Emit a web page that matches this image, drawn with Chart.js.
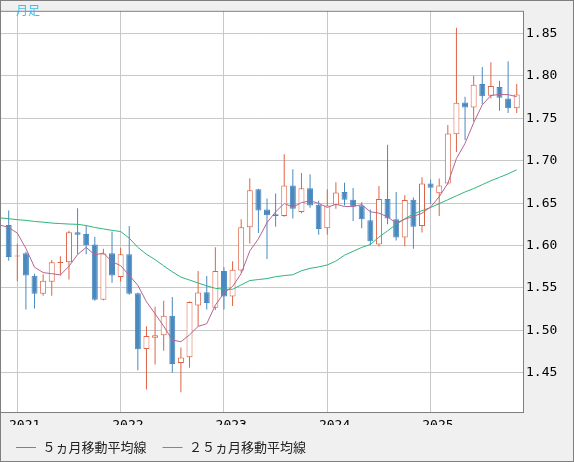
<!DOCTYPE html>
<html>
<head>
<meta charset="utf-8">
<script src="https://cdn.jsdelivr.net/npm/chart.js@4.4.1/dist/chart.umd.min.js"></script>
<style>
  html, body { margin: 0; padding: 0; background: #f0f0f0; }
  canvas { display: block; }
</style>
</head>
<body>
<canvas id="chart" width="574" height="462"></canvas>
<script>
// 月足データ (2020-11 は移動平均線の左端だけ)
const months = [
  '2020-11', '2020-12',
  '2021-01', '2021-02', '2021-03', '2021-04', '2021-05', '2021-06', '2021-07', '2021-08', '2021-09', '2021-10', '2021-11', '2021-12',
  '2022-01', '2022-02', '2022-03', '2022-04', '2022-05', '2022-06', '2022-07', '2022-08', '2022-09', '2022-10', '2022-11', '2022-12',
  '2023-01', '2023-02', '2023-03', '2023-04', '2023-05', '2023-06', '2023-07', '2023-08', '2023-09', '2023-10', '2023-11', '2023-12',
  '2024-01', '2024-02', '2024-03', '2024-04', '2024-05', '2024-06', '2024-07', '2024-08', '2024-09', '2024-10', '2024-11', '2024-12',
  '2025-01', '2025-02', '2025-03', '2025-04', '2025-05', '2025-06', '2025-07', '2025-08', '2025-09', '2025-10', '2025-11'
];
const opens = [
  null, 1.6242,
  1.5872, 1.5909, 1.5645, 1.5430, 1.5573, 1.5795, 1.5802, 1.6158, 1.6135, 1.6012, 1.5361, 1.5909,
  1.5630, 1.5897, 1.5438, 1.4780, 1.4914, 1.4941, 1.5171, 1.4615, 1.4684, 1.5293, 1.5450, 1.5266,
  1.5699, 1.5400, 1.5706, 1.6215, 1.6663, 1.6426, 1.6368, 1.6349, 1.6709, 1.6395, 1.6675, 1.6480,
  1.6204, 1.6480, 1.6632, 1.6540, 1.6471, 1.6299, 1.6012, 1.6548, 1.6311, 1.6096, 1.6540, 1.6230,
  1.6732, 1.6617, 1.6732, 1.7313, 1.7688, 1.7628, 1.7906, 1.7765, 1.7869, 1.7734, 1.7619
];
const highs = [
  null, 1.6414,
  1.6020, 1.5928, 1.5668, 1.5660, 1.5829, 1.5875, 1.6173, 1.6441, 1.6234, 1.6104, 1.5963, 1.6165,
  1.5974, 1.6230, 1.5445, 1.5048, 1.5278, 1.5350, 1.5392, 1.4799, 1.5340, 1.5699, 1.5641, 1.5981,
  1.5745, 1.5814, 1.6311, 1.6793, 1.6670, 1.6555, 1.6613, 1.7077, 1.6900, 1.6854, 1.6842, 1.6529,
  1.6663, 1.6747, 1.6739, 1.6678, 1.6509, 1.6426, 1.6701, 1.7187, 1.6632, 1.6594, 1.6567, 1.6804,
  1.6778, 1.6789, 1.7421, 1.8569, 1.7754, 1.8002, 1.8105, 1.8162, 1.7944, 1.8174, 1.7906
];
const lows = [
  null, 1.5820,
  1.5580, 1.5247, 1.5258, 1.5407, 1.5407, 1.5648, 1.5599, 1.5897, 1.5897, 1.5350, 1.5355, 1.5561,
  1.5573, 1.5419, 1.4528, 1.4302, 1.4597, 1.4758, 1.4500, 1.4271, 1.4558, 1.5048, 1.5247, 1.5240,
  1.5247, 1.5286, 1.5680, 1.6024, 1.6147, 1.5840, 1.6222, 1.6340, 1.6319, 1.6380, 1.6445, 1.6127,
  1.6127, 1.6434, 1.6471, 1.6288, 1.6204, 1.6004, 1.5990, 1.6250, 1.6058, 1.5993, 1.5963, 1.6153,
  1.6491, 1.6349, 1.6720, 1.7103, 1.7244, 1.7459, 1.7665, 1.7734, 1.7588, 1.7562, 1.7562
];
const closes = [
  null, 1.5866,
  1.5882, 1.5648, 1.5430, 1.5584, 1.5802, 1.5805, 1.6158, 1.6127, 1.6004, 1.5361, 1.5906, 1.5648,
  1.5897, 1.5430, 1.4776, 1.4933, 1.4941, 1.5171, 1.4604, 1.4681, 1.5335, 1.5446, 1.5323, 1.5699,
  1.5400, 1.5714, 1.6215, 1.6652, 1.6414, 1.6357, 1.6349, 1.6709, 1.6434, 1.6675, 1.6471, 1.6196,
  1.6471, 1.6624, 1.6540, 1.6463, 1.6311, 1.6050, 1.6548, 1.6319, 1.6096, 1.6537, 1.6222, 1.6732,
  1.6682, 1.6709, 1.7321, 1.7685, 1.7628, 1.7895, 1.7761, 1.7880, 1.7742, 1.7619, 1.7780
];
const ma5 = [
  1.6242, 1.6213,
  1.6147, 1.5966, 1.5745, 1.5681, 1.5668, 1.5653, 1.5755, 1.5894, 1.5978, 1.5890, 1.5911, 1.5809,
  1.5763, 1.5648, 1.5531, 1.5337, 1.5195, 1.5050, 1.4885, 1.4866, 1.4946, 1.5047, 1.5078, 1.5297,
  1.5441, 1.5516, 1.5670, 1.5936, 1.6079, 1.6270, 1.6397, 1.6496, 1.6453, 1.6505, 1.6528, 1.6497,
  1.6449, 1.6487, 1.6460, 1.6459, 1.6482, 1.6398, 1.6382, 1.6338, 1.6265, 1.6310, 1.6344, 1.6381,
  1.6454, 1.6576, 1.6733, 1.7026, 1.7205, 1.7448, 1.7658, 1.7770, 1.7781, 1.7779, 1.7756
];
const ma25 = [
  1.6326, 1.6316,
  1.6305, 1.6297, 1.6284, 1.6276, 1.6265, 1.6259, 1.6253, 1.6250, 1.6236, 1.6213, 1.6196, 1.6179,
  1.6165, 1.6087, 1.5978, 1.5897, 1.5834, 1.5760, 1.5691, 1.5628, 1.5593, 1.5559, 1.5524, 1.5496,
  1.5484, 1.5484, 1.5536, 1.5587, 1.5599, 1.5610, 1.5633, 1.5645, 1.5656, 1.5702, 1.5731, 1.5748,
  1.5771, 1.5817, 1.5886, 1.5932, 1.5978, 1.6012, 1.6099, 1.6173, 1.6248, 1.6316, 1.6372, 1.6411,
  1.6449, 1.6494, 1.6540, 1.6586, 1.6632, 1.6672, 1.6718, 1.6764, 1.6804, 1.6845, 1.6893
];
const yearLabels = ['2021', '2022', '2023', '2024', '2025'];
const priceTicks = [1.45, 1.50, 1.55, 1.60, 1.65, 1.70, 1.75, 1.80, 1.85];

const RED = '#dc6446';
const BLUE = '#4a89c0';

// 1月の位置 (目盛り線)
const janIndex = yearLabels.map(y => months.indexOf(y + '-01'));

const candles = [];
months.forEach((m, i) => {
  if (opens[i] === null) return;
  candles.push({ i, o: opens[i], h: highs[i], l: lows[i], c: closes[i] });
});
const isUp = c => c.c >= c.o;

const frame = {
  id: 'frame',
  beforeDraw(chart) {
    const { ctx, chartArea: a } = chart;
    ctx.save();
    ctx.fillStyle = '#ffffff';
    ctx.fillRect(a.left, a.top, a.right - a.left, a.bottom - a.top);
    ctx.restore();
  },
  afterDraw(chart) {
    const { ctx, chartArea: a } = chart;
    ctx.save();
    ctx.strokeStyle = '#7f7f7f';
    ctx.lineWidth = 1;
    ctx.strokeRect(a.left + 0.5, a.top + 0.5, a.right - a.left, a.bottom - a.top);
    ctx.strokeRect(0.5, 0.5, chart.width - 1, chart.height - 1);
    ctx.fillStyle = '#3fbdea';
    ctx.font = '12px "Noto Sans CJK JP"';
    ctx.textBaseline = 'middle';
    ctx.fillText('月足', 16, 10.5);
    ctx.restore();
  }
};

new Chart(document.getElementById('chart'), {
  type: 'bar',
  data: {
    datasets: [
      {
        type: 'line',
        label: '５ヵ月移動平均線',
        data: months.map((m, i) => ({ x: i, y: ma5[i] })),
        borderColor: '#b5658f',
        borderWidth: 1,
        pointRadius: 0,
        tension: 0,
        order: 0
      },
      {
        type: 'line',
        label: '２５ヵ月移動平均線',
        data: months.map((m, i) => ({ x: i, y: ma25[i] })),
        borderColor: '#2fb57a',
        borderWidth: 1,
        pointRadius: 0,
        tension: 0,
        order: 0
      },
      {
        label: 'body',
        data: candles.map(c => ({ x: c.i, y: [c.o, c.c] })),
        backgroundColor: ctx => isUp(candles[ctx.dataIndex]) ? '#ffffff' : BLUE,
        borderColor: ctx => isUp(candles[ctx.dataIndex]) ? RED : BLUE,
        borderWidth: 1,
        borderSkipped: false,
        barThickness: 6,
        inflateAmount: 0,
        grouped: false,
        order: 1
      },
      {
        label: 'wick',
        data: candles.map(c => ({ x: c.i, y: [c.l, c.h] })),
        backgroundColor: ctx => isUp(candles[ctx.dataIndex]) ? RED : BLUE,
        borderWidth: 0,
        barThickness: 1,
        inflateAmount: 0,
        grouped: false,
        order: 2
      }
    ]
  },
  options: {
    responsive: false,
    animation: false,
    events: [],
    layout: { padding: 0 },
    scales: {
      x: {
        type: 'linear',
        position: 'bottom',
        offset: false,
        min: -0.01,
        max: 60.73,
        weight: 0,
        afterBuildTicks: axis => { axis.ticks = janIndex.map(v => ({ value: v })); },
        afterFit: axis => { axis.height = 0; },
        grid: { color: '#c8c8c8', drawTicks: false, offset: false },
        border: { display: false },
        ticks: { display: false }
      },
      x2: {
        type: 'linear',
        position: 'bottom',
        offset: false,
        min: -0.01,
        max: 60.73,
        weight: 1,
        afterBuildTicks: axis => { axis.ticks = janIndex.map(v => ({ value: v + 0.85 })); },
        afterFit: axis => { axis.height = 13; },
        grid: { display: false, drawTicks: false, offset: false },
        border: { display: false },
        ticks: {
          autoSkip: false,
          maxRotation: 0,
          padding: 6,
          color: '#000',
          font: { family: 'DejaVu Sans Mono', size: 13 },
          callback: (v, i) => yearLabels[i]
        }
      },
      y: {
        position: 'right',
        min: 1.4037,
        max: 1.8768,
        afterBuildTicks: axis => { axis.ticks = priceTicks.map(v => ({ value: v })); },
        afterFit: axis => { axis.width = 51; },
        grid: { color: '#c8c8c8', drawTicks: false },
        border: { display: false },
        ticks: {
          padding: 3,
          color: '#000',
          font: { family: 'DejaVu Sans Mono', size: 13 },
          callback: v => v.toFixed(2)
        }
      }
    },
    plugins: {
      tooltip: { enabled: false },
      legend: {
        position: 'bottom',
        align: 'start',
        maxHeight: 37,
        labels: {
          usePointStyle: true,
          pointStyle: 'line',
          pointStyleWidth: 20,
          padding: 16,
          color: '#222',
          font: { family: 'Noto Sans CJK JP', size: 13 },
          filter: item => item.datasetIndex < 2
        }
      }
    }
  },
  plugins: [frame]
});
</script>
</body>
</html>
